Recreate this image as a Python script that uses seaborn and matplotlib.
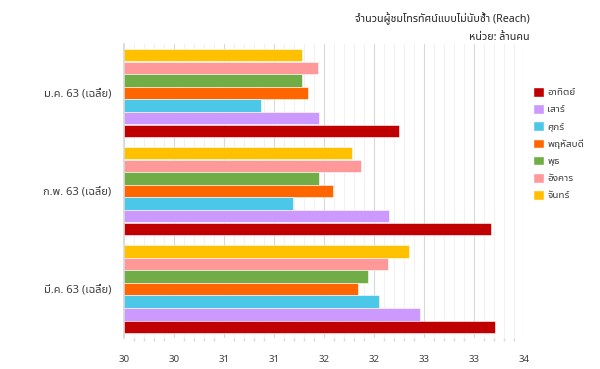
import matplotlib
matplotlib.use("Agg")
import matplotlib.pyplot as plt
import numpy as np
import pandas as pd
import seaborn as sns
from matplotlib.patches import Patch
from matplotlib.ticker import FixedLocator, FuncFormatter

sns.set_theme(style="white")
plt.rcParams['font.family'] = ['Noto Sans Thai UI', 'Noto Sans', 'DejaVu Sans']

# ข้อมูล (ล้านคน)
months = ["ม.ค. 63 (เฉลี่ย)", "ก.พ. 63 (เฉลี่ย)", "มี.ค. 63 (เฉลี่ย)"]
days = ["จันทร์", "อังคาร", "พุธ", "พฤหัสบดี", "ศุกร์", "เสาร์", "อาทิตย์"]
mon = [31.58, 32.08, 32.65]
tue = [31.74, 32.17, 32.44]
wed = [31.58, 31.75, 32.24]
thu = [31.64, 31.89, 32.14]
fri = [31.17, 31.49, 32.35]
sat = [31.75, 32.45, 32.76]
sun = [32.55, 33.47, 33.51]
colors = ["#FFC000", "#FF9999", "#70AD47", "#FF6600", "#4BC8E8", "#CC99FF", "#C00000"]

series = [mon, tue, wed, thu, fri, sat, sun]
df = pd.DataFrame({
    "month": months * len(days),
    "day": np.repeat(days, len(months)),
    "value": np.concatenate(series),
})

fig = plt.figure(figsize=(6, 3.69), dpi=100)
ax = fig.add_axes([124 / 600, 1 - 338 / 369, 400 / 600, 294 / 369])

sns.barplot(data=df, x="value", y="month", hue="day", order=months, hue_order=days,
            palette=colors, saturation=1, orient="h", width=0.9, edgecolor="white",
            linewidth=0.4, legend=False, ax=ax)

x0 = 29.8
ax.set_xlim(x0, x0 + 4)
ax.xaxis.set_major_locator(FixedLocator(x0 + 0.5 * np.arange(9)))
ax.xaxis.set_minor_locator(FixedLocator(x0 + 0.1 * np.arange(41)))
ax.xaxis.set_major_formatter(FuncFormatter(lambda v, p: f"{v:.0f}"))
ax.grid(axis="x", which="major", color="#d9d9d9", linewidth=0.8)
ax.grid(axis="x", which="minor", color="#efefef", linewidth=0.6)
ax.set_axisbelow(True)
ax.tick_params(axis="x", which="major", length=4, color="#d9d9d9", labelsize=7, labelcolor="#404040", pad=8)
ax.tick_params(axis="x", which="minor", length=2, color="#d9d9d9", bottom=True)
ax.tick_params(axis="y", length=0, labelsize=8, labelcolor="#404040", pad=9)
for s in ["top", "right", "bottom"]:
    ax.spines[s].set_visible(False)
ax.spines["left"].set_color("#d9d9d9")
ax.set_xlabel("")
ax.set_ylabel("")

fig.text(530 / 600, 1 - 19 / 369, "จำนวนผู้ชมโทรทัศน์แบบไม่นับซ้ำ (Reach)", ha="right", va="center",
         fontsize=7.7, color="#262626")
fig.text(530 / 600, 1 - 38 / 369, "หน่วย: ล้านคน", ha="right", va="center",
         fontsize=7.7, color="#262626")

handles = [Patch(facecolor=c, label=d) for c, d in zip(colors[::-1], days[::-1])]
fig.legend(handles=handles, loc="upper left", bbox_to_anchor=(524 / 600, 1 - 78 / 369),
           frameon=False, fontsize=7.2, handlelength=1.1, handleheight=1.1,
           handletextpad=0.35, labelspacing=0.6, labelcolor="#404040")

fig.savefig("out.png", dpi=100)
